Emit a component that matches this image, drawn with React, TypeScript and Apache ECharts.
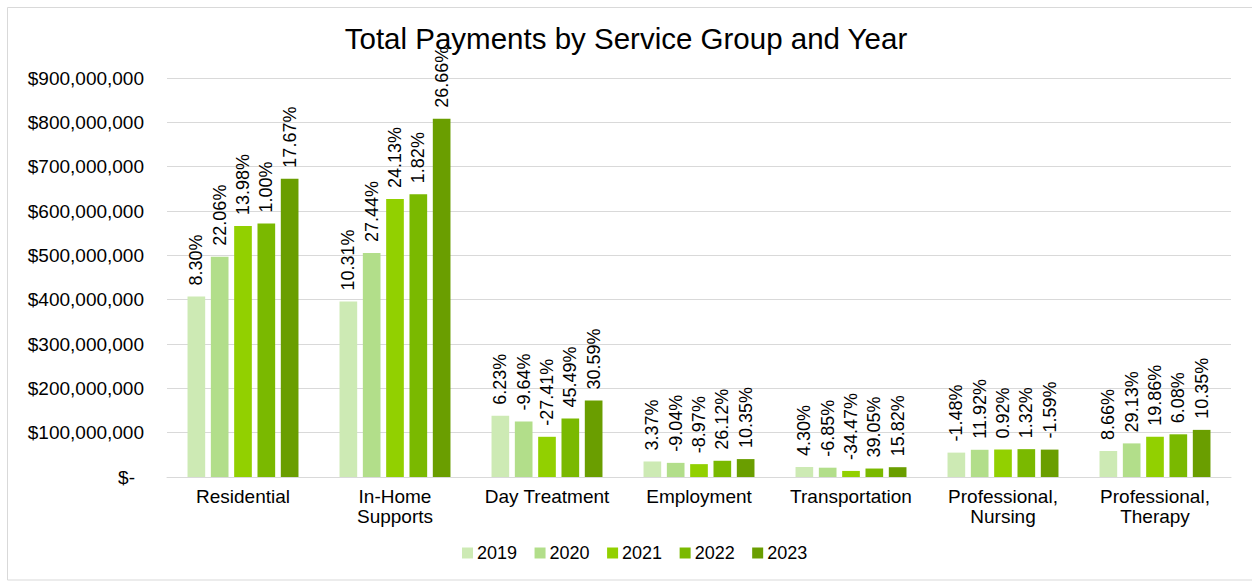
import React, { useEffect, useRef } from "react";
import * as echarts from "echarts";

const categories = [
  "Residential",
  "In-Home\nSupports",
  "Day Treatment",
  "Employment",
  "Transportation",
  "Professional,\nNursing",
  "Professional,\nTherapy",
];
const years = ["2019", "2020", "2021", "2022", "2023"];

const pay2019 = [407e6, 396e6, 138e6, 35e6, 22.5e6, 55e6, 58.7e6];
const pay2020 = [497e6, 505e6, 125e6, 31.9e6, 21e6, 61.4e6, 75.8e6];
const pay2021 = [566e6, 627e6, 90.7e6, 29e6, 13.7e6, 62e6, 90.8e6];
const pay2022 = [572e6, 638e6, 132e6, 36.6e6, 19.1e6, 62.8e6, 96.3e6];
const pay2023 = [673e6, 808e6, 172.5e6, 40.4e6, 22.1e6, 61.8e6, 106.3e6];

const pct2019 = ["8.30%", "10.31%", "6.23%", "3.37%", "4.30%", "-1.48%", "8.66%"];
const pct2020 = ["22.06%", "27.44%", "-9.64%", "-9.04%", "-6.85%", "11.92%", "29.13%"];
const pct2021 = ["13.98%", "24.13%", "-27.41%", "-8.97%", "-34.47%", "0.92%", "19.86%"];
const pct2022 = ["1.00%", "1.82%", "45.49%", "26.12%", "39.05%", "1.32%", "6.08%"];
const pct2023 = ["17.67%", "26.66%", "30.59%", "10.35%", "15.82%", "-1.59%", "10.35%"];

const colors = ["#cdeab4", "#b2de8a", "#92d000", "#7ab900", "#6a9e00"];

const FONT = "'Liberation Sans', Arial, sans-serif";

export default function App() {
  const ref = useRef<HTMLDivElement>(null);

  useEffect(() => {
    if (!ref.current) return;
    const chart = echarts.init(ref.current, null, { renderer: "svg" });
    const payments = [pay2019, pay2020, pay2021, pay2022, pay2023];
    const pcts = [pct2019, pct2020, pct2021, pct2022, pct2023];

    chart.setOption({
      animation: false,
      backgroundColor: "#ffffff",
      textStyle: { fontFamily: FONT },
      graphic: [
        {
          type: "rect",
          shape: { x: 7.5, y: 7.5, width: 1250, height: 572.5 },
          style: { fill: "none", stroke: "#d9d9d9", lineWidth: 1 },
          silent: true,
        },
      ],
      title: {
        text: "Total Payments by Service Group and Year",
        left: "center",
        top: 18,
        textStyle: {
          fontFamily: FONT,
          fontSize: 29.5,
          fontWeight: "normal",
          color: "#000000",
        },
      },
      legend: {
        data: years,
        bottom: 14,
        left: 457,
        itemWidth: 11,
        itemHeight: 11,
        itemGap: 17.5,
        icon: "rect",
        textStyle: { fontFamily: FONT, fontSize: 18, color: "#000000", padding: [0, 0, 0, -1] },
      },
      grid: { left: 167, right: 21, top: 78, bottom: 104, containLabel: false },
      xAxis: {
        type: "category",
        data: categories,
        axisLine: { show: true, lineStyle: { color: "#d9d9d9", width: 1 } },
        axisTick: { show: false },
        axisLabel: {
          interval: 0,
          fontFamily: FONT,
          fontSize: 19,
          color: "#000000",
          margin: 9,
          lineHeight: 20,
        },
      },
      yAxis: {
        type: "value",
        min: 0,
        max: 900e6,
        interval: 100e6,
        axisLine: { show: false },
        axisTick: { show: false },
        splitLine: { lineStyle: { color: "#d9d9d9", width: 1 } },
        axisLabel: {
          fontFamily: FONT,
          fontSize: 19,
          color: "#000000",
          margin: 23,
          formatter: (v: number) =>
            v === 0 ? "{z|$-}" : "$" + v.toLocaleString("en-US"),
          rich: {
            z: { fontFamily: FONT, fontSize: 19, color: "#000000", padding: [0, 9, 0, 0] },
          },
        },
      },
      series: years.map((y, i) => ({
        name: y,
        type: "bar",
        data: payments[i],
        barGap: "32%",
        barCategoryGap: "27%",
        itemStyle: { color: colors[i] },
        label: {
          show: true,
          position: "top",
          rotate: 90,
          align: "left",
          verticalAlign: "middle",
          distance: 11,
          fontFamily: FONT,
          fontSize: 18,
          color: "#000000",
          formatter: (p: any) => pcts[i][p.dataIndex],
        },
      })),
    });

    return () => chart.dispose();
  }, []);

  return (
    <div
      ref={ref}
      style={{ position: "absolute", left: 0, top: 0, width: 1252, height: 581 }}
    />
  );
}
